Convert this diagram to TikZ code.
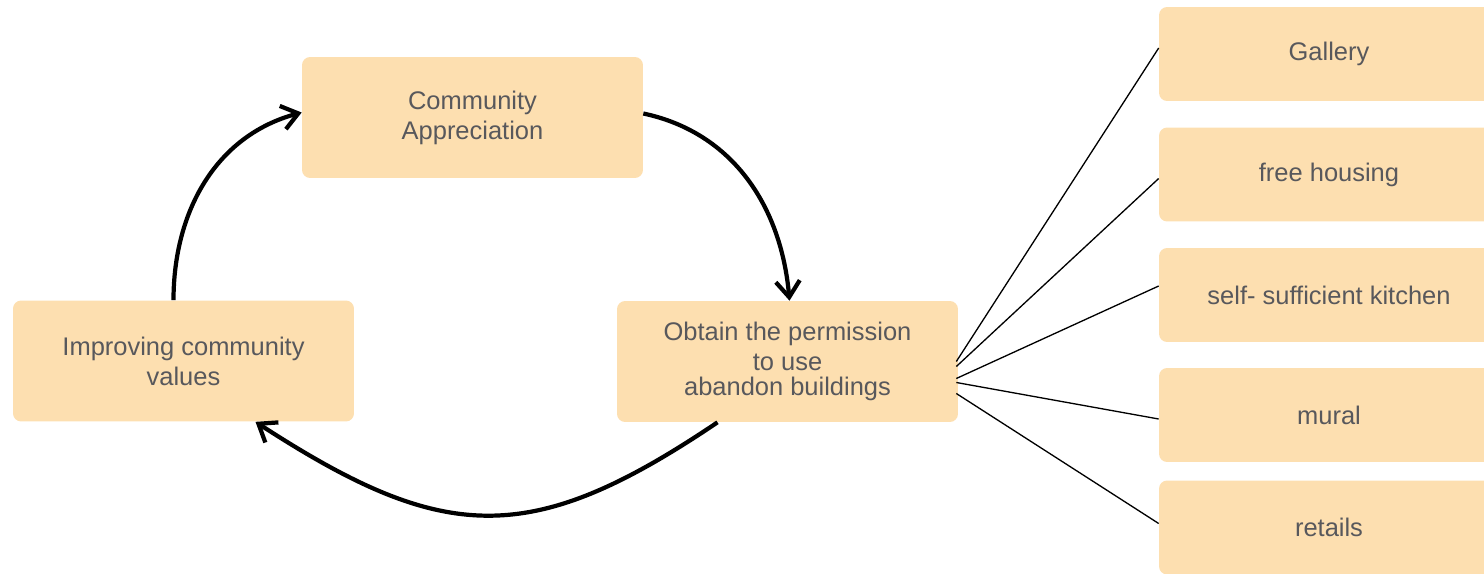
\documentclass[tikz,border=0pt]{standalone}
\usepackage{fontspec}
\setmainfont{Liberation Sans}
\usepackage{xcolor}
\usepackage{tikz}
\usetikzlibrary{arrows.meta, positioning, calc}

\definecolor{boxfill}{RGB}{253,223,176}
\definecolor{boxtext}{RGB}{88,88,92}

\begin{document}
\begin{tikzpicture}[
        x=0.02cm, y=-0.02cm,
        >={Straight Barb[length=3.2mm, width=4.8mm]},
        cycle_box/.style={rectangle, rounded corners=0.16cm, fill=boxfill, text=boxtext, align=center,
            minimum width=6.82cm, minimum height=2.42cm, inner sep=0pt, font=\fontsize{14.5}{17}\selectfont},
        item_box/.style={cycle_box, minimum width=6.8cm, minimum height=1.88cm},
        cycle_arrow/.style={line width=2.4pt, ->, black},
        link_line/.style={line width=0.75pt, black}
        ]
        \useasboundingbox (0,0) rectangle (1484,574);

        % Cycle boxes
        \node[cycle_box] (appreciation) at (472.5,117.5) {Community\\Appreciation};
        \node[cycle_box] (improving) at (183.5,361) {Improving community\\values};
        \node[cycle_box] (permission) at (787.5,361.5) {Obtain the permission\\to use\\[-3pt]abandon buildings};

        % Uses of the buildings
        \node[item_box] (gallery) at (1329,54) {Gallery};
        \node[item_box] (housing) at (1329,174.5) {free housing};
        \node[item_box] (kitchen) at (1329,295) {self- sufficient kitchen};
        \node[item_box] (mural) at (1329,415) {mural};
        \node[item_box] (retails) at (1329,527.5) {retails};

        % Cycle arrows
        \draw[cycle_arrow] ($(appreciation.east)+(0,-4)$) to[out=-12, in=95] ($(permission.north)+(2,0)$);
        \draw[cycle_arrow] ($(permission.south)+(-70,0)$) to[out=214, in=-33, looseness=1.25] ($(improving.south)+(72,0)$);
        \draw[cycle_arrow] ($(improving.north)+(-10,0)$) to[out=90, in=195] ($(appreciation.west)+(0,-5)$);

        % Links to the uses
        \draw[link_line] ($(permission.east)+(-2,0)$) -- ($(gallery.west)+(0,-6)$);
        \draw[link_line] ($(permission.east)+(-2,5)$) -- ($(housing.west)+(0,4)$);
        \draw[link_line] ($(permission.east)+(-2,17)$) -- ($(kitchen.west)+(0,-9)$);
        \draw[link_line] ($(permission.east)+(-2,21)$) -- ($(mural.west)+(0,4)$);
        \draw[link_line] ($(permission.east)+(-2,32)$) -- ($(retails.west)+(0,-4)$);

    \end{tikzpicture}
\end{document}
